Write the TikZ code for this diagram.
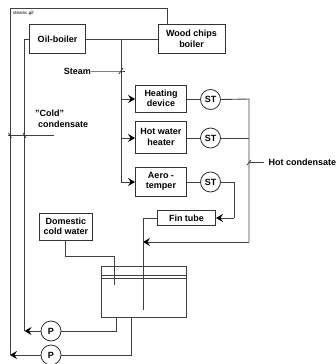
\documentclass[tikz,border=0pt]{standalone}
\usepackage{fontspec}
\setmainfont{Liberation Sans}
\usetikzlibrary{arrows.meta}
\tikzset{
  lbl/.style={font=\fontsize{9}{10.5}\selectfont\bfseries,align=center,inner sep=0pt},
  boxn/.style={lbl,draw=black!80,line width=0.9pt,fill=white,minimum width=#1},
  boxn/.default=50pt,
  valve/.style={lbl,circle,draw=black!80,line width=0.8pt,fill=white,minimum size=20pt},
  pipe/.style={draw=black!75,line width=0.9pt},
  flow/.style={pipe,-{Stealth[length=7pt,width=8pt,inset=2.5pt,color=black]}},
  tick/.style={draw=black!80,line width=0.7pt}
}
\begin{document}
\begin{tikzpicture}[x=1pt,y=-1pt]
\useasboundingbox (0,0) rectangle (336,364);
% coordinates
\coordinate (frameA) at (167,8);
\coordinate (frameB) at (10,8);
\coordinate (frameC) at (10,355);
\coordinate (retA) at (24.5,39);
\coordinate (retB) at (24.5,331);
\coordinate (st0) at (121,39);
\coordinate (st1) at (121,99);
\coordinate (st2) at (121,138);
\coordinate (st3) at (121,182);
\coordinate (hc1) at (249,99);
\coordinate (hc2) at (249,138);
\coordinate (hc3) at (249,242);
\coordinate (inl) at (143,242);
\coordinate (a1) at (234,182);
\coordinate (a2) at (234,218);
\coordinate (fa) at (143,218);
\coordinate (fb) at (143,309.5);
\coordinate (da) at (65.5,256);
\coordinate (db) at (114,256);
\coordinate (dc) at (114,285);
\coordinate (pa) at (116.5,331);
\coordinate (pb) at (116.5,317);
\coordinate (qa) at (131,355);
\coordinate (qb) at (131,317);
\coordinate (steamEnd) at (121,71);
\coordinate (coldL) at (8,135);
\coordinate (coldR) at (54,135);
\coordinate (hotJ) at (249,162.5);
\coordinate (hotR) at (264,162.5);
% tank
\draw[pipe] (101.5,266) rectangle (186.5,317);
\draw[pipe] (101.5,275.5) -- (186.5,275.5);
\draw[pipe] (101.5,278) -- (186.5,278);
% boxes
\node[boxn,minimum width=56pt,minimum height=29pt] (oil) at (57.5,39) {Oil-boiler};
\node[boxn,minimum width=67pt,minimum height=29pt] (wood) at (191.5,39) {Wood chips\\boiler};
\node[boxn,minimum width=51pt,minimum height=27pt] (heat) at (161,98.5) {Heating\\device};
\node[boxn,minimum width=51pt,minimum height=32pt] (hotw) at (161,137) {Hot water\\heater};
\node[boxn,minimum width=51pt,minimum height=29pt] (aero) at (161,181.5) {Aero -\\temper};
\node[boxn,minimum width=58pt,minimum height=15pt] (fin) at (186.5,218) {Fin tube};
\node[boxn,minimum width=53pt,minimum height=27pt] (dom) at (66,226.5) {Domestic\\cold water};
\node[valve] (st1v) at (210.5,99.5) {ST};
\node[valve] (st2v) at (210.5,138) {ST};
\node[valve] (st3v) at (210.5,182) {ST};
\node[valve] (p1) at (51,331) {P};
\node[valve] (p2) at (51,355) {P};
% labels
\node[lbl,anchor=east] (steam) at (91,71) {Steam};
\node[lbl,align=left,anchor=north west] (cold) at (35,110) {"Cold"\\\,\,condensate};
\node[lbl,anchor=west] (hot) at (268.5,162.5) {Hot condensate};
\node[anchor=west,inner sep=0pt,font=\fontsize{4.5}{5}\selectfont] (gif) at (13,13) {steamc.gif};
% connectors
\draw[pipe] (wood.north -| frameA) -- (frameA) -- (frameB) -- (10,340);
\draw[flow] (p2.west) -- (frameC);
\draw[pipe] (frameB) -- (frameC);
\draw[pipe] (oil.west) -- (retA) -- (retB);
\draw[flow] (p1.west) -- (retB);
\draw[pipe] (oil.east) -- (wood.west);
\draw[pipe] (st0) -- (st3);
\draw[flow] (st1) -- (st1 -| heat.west);
\draw[flow] (st2) -- (st2 -| hotw.west);
\draw[flow] (st3) -- (st3 -| aero.west);
\draw[pipe] (heat.east |- st1v) -- (st1v.west);
\draw[pipe] (hotw.east |- st2v) -- (st2v.west);
\draw[pipe] (aero.east |- st3v) -- (st3v.west);
\draw[pipe] (st1v.east) -- (hc1) -- (hc3);
\draw[pipe] (st2v.east) -- (hc2);
\draw[flow] (hc3) -- (inl);
\draw[pipe] (st3v.east) -- (a1) -- (a2);
\draw[flow] (a2) -- (fin.east);
\draw[pipe] (fin.west) -- (fa) -- (fb);
\draw[pipe] (dom.south -| da) -- (da) -- (db) -- (dc);
\draw[pipe] (p1.east) -- (pa) -- (pb);
\draw[pipe] (p2.east) -- (qa) -- (qb);
% steam tick and others
\draw[pipe,line width=0.7pt] (steam.east) -- (steamEnd) -- (125,71);
\draw[tick] (119,74) -- (123,68);
\draw[pipe] (coldL) -- (coldR);
\draw[tick] (8.5,133) -- (11.5,138);
\draw[tick] (23,133) -- (26,138);
\draw[pipe,line width=0.7pt] (hotJ) -- (hotR);
\draw[tick] (247,165) -- (251,160);
\end{tikzpicture}
\end{document}
